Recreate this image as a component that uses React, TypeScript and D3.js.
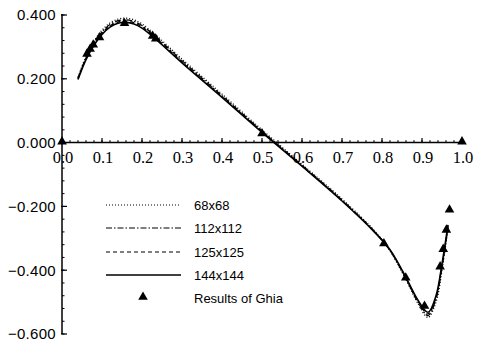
import React, { useEffect, useRef } from "react";
import * as d3 from "d3";

// x positions along the centre line
const xs68 = [0.04, 0.06, 0.08, 0.10, 0.12, 0.14, 0.16, 0.18, 0.20, 0.23, 0.30, 0.40, 0.50, 0.60, 0.70, 0.78, 0.82, 0.86, 0.89, 0.915, 0.935, 0.95, 0.965];
const v68 = [0.205, 0.27, 0.318, 0.352, 0.375, 0.387, 0.39, 0.385, 0.372, 0.342, 0.262, 0.152, 0.04, -0.068, -0.177, -0.275, -0.34, -0.43, -0.505, -0.548, -0.5, -0.4, -0.27];
const v112 = [0.202, 0.266, 0.313, 0.347, 0.37, 0.382, 0.385, 0.38, 0.367, 0.337, 0.257, 0.147, 0.036, -0.071, -0.18, -0.277, -0.338, -0.427, -0.5, -0.542, -0.49, -0.39, -0.265];
const v125 = [0.2, 0.263, 0.309, 0.343, 0.366, 0.378, 0.381, 0.376, 0.363, 0.333, 0.253, 0.144, 0.034, -0.073, -0.182, -0.278, -0.337, -0.425, -0.497, -0.537, -0.485, -0.385, -0.262];
const v144 = [0.198, 0.26, 0.305, 0.339, 0.362, 0.374, 0.377, 0.372, 0.359, 0.329, 0.25, 0.142, 0.032, -0.074, -0.183, -0.279, -0.336, -0.423, -0.494, -0.532, -0.48, -0.38, -0.258];

// Ghia et al. reference points
const ghiaX = [0.0, 0.0625, 0.0703, 0.0781, 0.0938, 0.1563, 0.2266, 0.2344, 0.5, 0.8047, 0.8594, 0.9063, 0.9453, 0.9531, 0.9609, 0.9688, 1.0];
const ghiaV = [0.0, 0.27485, 0.29012, 0.30353, 0.32627, 0.37095, 0.33075, 0.32235, 0.02526, -0.31966, -0.42665, -0.5155, -0.39188, -0.33714, -0.27669, -0.21388, 0.0];

const seriesNames = ["68x68", "112x112", "125x125", "144x144"];
const seriesValues = [v68, v112, v125, v144];
const dashes = ["1,2", "6,2,1.5,2", "4,3", null];
const ghiaLabel = "Results of Ghia";

const xTicks = [0, 0.1, 0.2, 0.3, 0.4, 0.5, 0.6, 0.7, 0.8, 0.9, 1.0];
const yTicks = [-0.6, -0.4, -0.2, 0, 0.2, 0.4];

export default function App() {
  const svgRef = useRef<SVGSVGElement>(null);

  useEffect(() => {
    const svg = d3.select(svgRef.current);
    svg.selectAll("*").remove();

    const x = d3.scaleLinear().domain([0, 1]).range([62, 462]);
    const y = d3.scaleLinear().domain([-0.6, 0.4]).range([334, 15]);

    // y axis
    const ya = svg.append("g");
    ya.append("line").attr("x1", x(0)).attr("x2", x(0)).attr("y1", y(0.4) - 1).attr("y2", y(-0.6)).attr("stroke", "#000").attr("stroke-width", 1.5);
    d3.range(-0.6, 0.4001, 0.04).forEach((t) => {
      ya.append("line").attr("x1", x(0)).attr("x2", x(0) + 2.5).attr("y1", y(t)).attr("y2", y(t)).attr("stroke", "#000").attr("stroke-width", 1);
    });
    yTicks.forEach((t) => {
      ya.append("line").attr("x1", x(0) - 1).attr("x2", x(0) + 5).attr("y1", y(t)).attr("y2", y(t)).attr("stroke", "#000").attr("stroke-width", 1.2);
      ya.append("text")
        .attr("x", x(0) - 6)
        .attr("y", y(t))
        .attr("dy", "0.36em")
        .attr("text-anchor", "end")
        .attr("font-family", "Liberation Sans, Arial, sans-serif")
        .attr("font-size", 15)
        .attr("letter-spacing", 0.3)
        .text(d3.format(".3f")(Math.abs(t) < 1e-9 ? 0 : t));
    });

    // x axis
    const xa = svg.append("g");
    xa.append("line").attr("x1", x(0)).attr("x2", x(1) + 2).attr("y1", y(0)).attr("y2", y(0)).attr("stroke", "#000").attr("stroke-width", 1.5);
    d3.range(0, 1.0001, 0.02).forEach((t) => {
      xa.append("line").attr("x1", x(t)).attr("x2", x(t)).attr("y1", y(0)).attr("y2", y(0) - 2.5).attr("stroke", "#000").attr("stroke-width", 1);
    });
    xTicks.forEach((t) => {
      xa.append("line").attr("x1", x(t)).attr("x2", x(t)).attr("y1", y(0)).attr("y2", y(0) - 4.5).attr("stroke", "#000").attr("stroke-width", 1.2);
      xa.append("text")
        .attr("x", x(t) + 1)
        .attr("y", y(0) + 20)
        .attr("text-anchor", "middle")
        .attr("font-family", "Liberation Serif, Times New Roman, serif")
        .attr("font-size", 16.5)
        .text(d3.format(".1f")(t));
    });

    // curves
    const line = d3.line<number>().x((_, i) => x(xs68[i])).y((d) => y(d)).curve(d3.curveCatmullRom);
    seriesValues.forEach((vals, k) => {
      svg.append("path")
        .attr("d", line(vals))
        .attr("fill", "none")
        .attr("stroke", "#000")
        .attr("stroke-width", k === 3 ? 1.6 : 1.3)
        .attr("stroke-dasharray", dashes[k]);
    });

    // Ghia markers
    const tri = d3.symbol().type(d3.symbolTriangle).size(40);
    svg.append("g").selectAll("path").data(ghiaX).join("path")
      .attr("d", tri)
      .attr("transform", (d, i) => `translate(${x(d)},${y(ghiaV[i]) - 1})`)
      .attr("fill", "#000");

    // legend
    const lg = svg.append("g").attr("font-family", "Liberation Sans, Arial, sans-serif").attr("font-size", 13);
    const rowY = [205, 228, 252, 275];
    seriesNames.forEach((name, k) => {
      lg.append("line").attr("x1", 106).attr("x2", 181).attr("y1", rowY[k]).attr("y2", rowY[k])
        .attr("stroke", "#000").attr("stroke-width", k === 3 ? 1.4 : 1.2).attr("stroke-dasharray", dashes[k]);
      lg.append("text").attr("x", 194).attr("y", rowY[k]).attr("dy", "0.35em").text(name);
    });
    lg.append("path").attr("d", tri).attr("transform", "translate(143,297)").attr("fill", "#000");
    lg.append("text").attr("x", 194).attr("y", 298).attr("dy", "0.35em").text(ghiaLabel);
  }, []);

  return (
    <svg ref={svgRef} width={477} height={343} style={{ position: "absolute", left: 0, top: 0, background: "#fff" }} />
  );
}
